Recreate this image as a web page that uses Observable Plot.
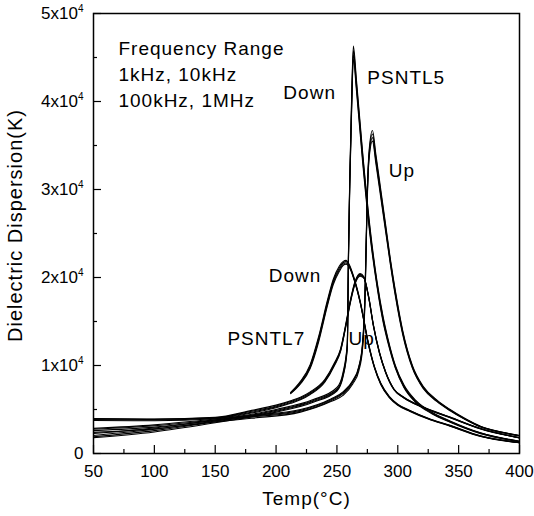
<!DOCTYPE html>
<html><head><meta charset="utf-8">
<script src="https://cdn.jsdelivr.net/npm/d3@7"></script>
<script src="https://cdn.jsdelivr.net/npm/@observablehq/plot@0.6"></script>
<style>
body{margin:0;background:#fff;}
#chart svg{font-family:"Liberation Sans",Arial,Helvetica,sans-serif;}
g[aria-label="text"] text{letter-spacing:1px;}
</style></head><body><div id="chart"></div>
<script>
const freqs = ["1kHz", "10kHz", "100kHz", "1MHz"];

// PSNTL5, cooling (Down)
const t5Down = [50, 100, 150, 200, 230, 250, 255, 258.5, 259.5, 260.5, 262, 263.5, 266, 271, 277.5, 283, 288, 292, 298, 305, 315, 328, 343, 368, 400];
const k5Down1k   = [2270, 2900, 3800, 5000, 6100, 7500, 9200, 12500, 23000, 31000, 40000, 46300, 42500, 34400, 25300, 19500, 15500, 13000, 10000, 7800, 6000, 4700, 3700, 2350, 1400];
const k5Down10k  = [2050, 2750, 3700, 4900, 6000, 7300, 9000, 12300, 22700, 30700, 39500, 45800, 42100, 34100, 25000, 19300, 15300, 12850, 9900, 7700, 5920, 4640, 3650, 2320, 1380];
const k5Down100k = [1900, 2600, 3600, 4800, 5900, 7200, 8850, 12100, 22400, 30400, 39000, 45300, 41700, 33700, 24700, 19100, 15100, 12700, 9800, 7600, 5840, 4580, 3600, 2290, 1360];
const k5Down1M   = [1800, 2450, 3500, 4700, 5800, 7100, 8700, 11900, 22100, 30100, 38500, 44800, 41300, 33300, 24400, 18900, 14900, 12550, 9700, 7500, 5760, 4520, 3550, 2260, 1340];

// PSNTL5, heating (Up)
const t5Up = [50, 100, 138, 180, 220, 245, 255, 263, 268, 271, 273, 274, 275, 276.5, 279.2, 282, 286, 290, 294, 298, 304, 312, 321, 332, 343, 355, 368, 385, 400];
const k5Up1k   = [2850, 3250, 3750, 4350, 5000, 6200, 7000, 8300, 9900, 12500, 18000, 24000, 30000, 34500, 36700, 34000, 30000, 26000, 22000, 18500, 14000, 10000, 7600, 6100, 5000, 4000, 3100, 2450, 2050];
const k5Up10k  = [2750, 3150, 3650, 4250, 4900, 6100, 6900, 8200, 9800, 12300, 17700, 23700, 29700, 34200, 36300, 33650, 29700, 25750, 21800, 18300, 13850, 9900, 7520, 6040, 4950, 3960, 3070, 2430, 2030];
const k5Up100k = [2600, 3000, 3550, 4150, 4800, 6000, 6800, 8100, 9700, 12100, 17400, 23400, 29400, 33900, 35900, 33300, 29400, 25500, 21600, 18100, 13700, 9800, 7440, 5980, 4900, 3920, 3040, 2410, 2010];
const k5Up1M   = [2400, 2800, 3400, 4000, 4700, 5900, 6600, 7900, 9400, 11800, 17100, 23100, 29100, 33600, 35500, 32950, 29100, 25250, 21400, 17900, 13550, 9700, 7360, 5920, 4850, 3880, 3010, 2390, 1990];

// PSNTL7, cooling (Down)
const t7Down = [212, 220, 228, 235, 242, 247, 252, 255, 257.5, 260, 264, 269, 276, 281, 286, 293, 300, 310, 325, 343, 368, 400];
const k7Down1k   = [6950, 8200, 10100, 13300, 17300, 19800, 21300, 21800, 21950, 21500, 20000, 17400, 12500, 9800, 8000, 6500, 5600, 4900, 4000, 3200, 2000, 1250];
const k7Down10k  = [6900, 8100, 9950, 13100, 17100, 19600, 21100, 21650, 21800, 21400, 19900, 17300, 12400, 9750, 7950, 6450, 5560, 4860, 3970, 3170, 1980, 1240];
const k7Down100k = [6850, 8000, 9800, 12900, 16900, 19400, 20900, 21500, 21650, 21300, 19850, 17250, 12350, 9700, 7900, 6400, 5520, 4820, 3940, 3140, 1960, 1230];
const k7Down1M   = [6800, 7900, 9650, 12700, 16700, 19200, 20700, 21350, 21500, 21200, 19800, 17200, 12300, 9650, 7850, 6350, 5480, 4780, 3910, 3110, 1940, 1220];

// PSNTL7, heating (Up)
const t7Up = [50, 100, 150, 180, 200, 212, 220, 228, 240, 248, 253, 257, 261, 265, 269, 272, 276, 280, 285, 290, 297, 305, 320, 343, 368, 400];
const k7Up1k   = [3980, 3920, 4100, 4900, 5500, 6000, 6400, 7000, 8400, 10300, 11900, 14500, 17400, 19600, 20450, 20100, 17900, 14600, 11500, 9300, 7300, 6400, 5350, 4150, 2850, 1800];
const k7Up10k  = [3940, 3880, 4050, 4800, 5400, 5900, 6300, 6900, 8300, 10200, 11800, 14400, 17300, 19500, 20350, 20050, 17850, 14550, 11450, 9260, 7270, 6370, 5320, 4120, 2830, 1790];
const k7Up100k = [3850, 3800, 4000, 4700, 5300, 5800, 6200, 6800, 8200, 10100, 11700, 14300, 17200, 19400, 20250, 20000, 17800, 14500, 11400, 9220, 7240, 6340, 5290, 4090, 2810, 1780];
const k7Up1M   = [3750, 3720, 3950, 4600, 5200, 5700, 6100, 6700, 8100, 10000, 11600, 14200, 17100, 19300, 20150, 19950, 17750, 14450, 11350, 9180, 7210, 6310, 5260, 4060, 2790, 1770];

// axis ticks
const xTicks = [50, 100, 150, 200, 250, 300, 350, 400];
const xMinorTicks = [75, 125, 175, 225, 275, 325, 375];
const yTicks = [0, 10000, 20000, 30000, 40000, 50000];
const yTickLabels = ["0", "1x10⁴", "2x10⁴", "3x10⁴", "4x10⁴", "5x10⁴"];
const yMinorTicks = [5000, 15000, 25000, 35000, 45000];

// annotations
const noteText = ["Frequency Range", "1kHz, 10kHz", "100kHz, 1MHz", "Down", "PSNTL5", "Up", "Down", "PSNTL7", "Up"];
const noteT = [70.5, 70.5, 70.5, 206, 275, 292.5, 194, 160, 259.5];
const noteK = [46000, 43050, 40100, 41000, 42700, 32150, 20200, 13060, 13060];

const rows = [];
function addGroup(name, T, list) {
  list.forEach((ks, i) => ks.forEach((k, j) => rows.push({series: name + " " + freqs[i], T: T[j], K: k})));
}
addGroup("PSNTL5 Down", t5Down, [k5Down1k, k5Down10k, k5Down100k, k5Down1M]);
addGroup("PSNTL5 Up", t5Up, [k5Up1k, k5Up10k, k5Up100k, k5Up1M]);
addGroup("PSNTL7 Down", t7Down, [k7Down1k, k7Down10k, k7Down100k, k7Down1M]);
addGroup("PSNTL7 Up", t7Up, [k7Up1k, k7Up10k, k7Up100k, k7Up1M]);

const notes = noteText.map((t, i) => ({text: t, T: noteT[i], K: noteK[i]}));

const chart = Plot.plot({
  width: 534, height: 516,
  marginLeft: 93, marginRight: 15, marginTop: 13, marginBottom: 63,
  style: {fontFamily: "'Liberation Sans', Arial, Helvetica, sans-serif", fontSize: "17px", color: "black", background: "white"},
  x: {domain: [50, 400]},
  y: {domain: [0, 50000]},
  marks: [
    Plot.axisX(xMinorTicks, {tickSize: -4, tickFormat: () => "", label: null, strokeWidth: 1.2}),
    Plot.axisX(xTicks, {tickSize: -8, tickPadding: 19, tickFormat: d => String(d), label: null, strokeWidth: 1.2, fontSize: 17}),
    Plot.axisY(yMinorTicks, {tickSize: -4, tickFormat: () => "", label: null, strokeWidth: 1.2}),
    Plot.axisY(yTicks, {tickSize: -8, tickPadding: 18, tickFormat: d => yTickLabels[yTicks.indexOf(d)], label: null, strokeWidth: 1.2, fontSize: 17}),
    Plot.frame({stroke: "black", strokeWidth: 1.5}),
    Plot.text(["Temp(°C)"], {frameAnchor: "bottom", dy: 45, fontSize: 19, lineAnchor: "middle", textAnchor: "middle"}),
    Plot.text(["Dielectric Dispersion(K)"], {frameAnchor: "left", dx: -78, dy: -8, rotate: -90, fontSize: 20, lineAnchor: "middle", textAnchor: "middle"}),
    Plot.text(notes, {x: "T", y: "K", text: "text", textAnchor: "start", lineAnchor: "middle", fontSize: 19}),
    Plot.line(rows, {x: "T", y: "K", z: "series", stroke: "black", strokeWidth: 1.1, curve: "monotone-x"})
  ]
});
document.getElementById("chart").appendChild(chart);

// superscript exponent in y tick labels
chart.querySelectorAll('g[aria-label="y-axis tick label"] text').forEach(t => {
  const s = t.textContent;
  if (s.includes("⁴")) {
    t.textContent = s.replace("⁴", "");
    const sup = document.createElementNS("http://www.w3.org/2000/svg", "tspan");
    sup.setAttribute("dy", "-7");
    sup.setAttribute("font-size", "10");
    sup.textContent = "4";
    t.appendChild(sup);
  }
});
</script></body></html>
